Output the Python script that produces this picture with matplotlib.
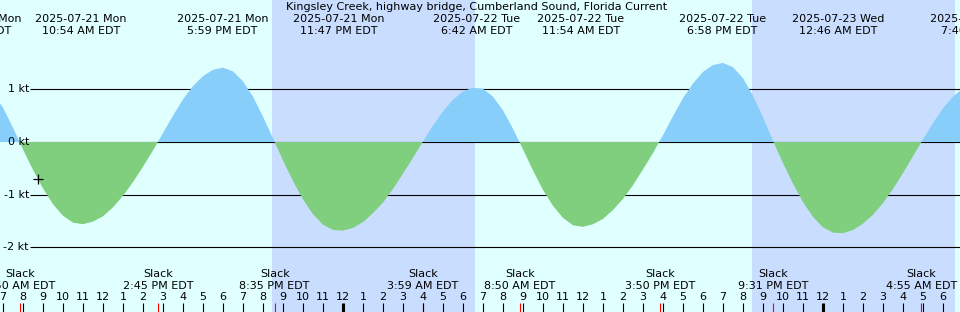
import numpy as np
import pandas as pd
import matplotlib
matplotlib.use("Agg")
import matplotlib.pyplot as plt

title = "Kingsley Creek, highway bridge, Cumberland Sound, Florida Current"

# current speed (kt), sampled every 30 minutes from 2025-07-21 06:30 EDT
sample_start = "2025-07-21 06:30"
speeds = [
    0.93, 0.65, 0.27, -0.14, -0.53, -0.88, -1.18, -1.40, -1.53, -1.56,
    -1.51, -1.41, -1.24, -1.02, -0.76, -0.47, -0.16, 0.17, 0.50, 0.81,
    1.06, 1.25, 1.37, 1.41, 1.34, 1.15, 0.86, 0.48, 0.07, -0.35,
    -0.74, -1.09, -1.37, -1.57, -1.67, -1.68, -1.63, -1.52, -1.35, -1.15,
    -0.89, -0.60, -0.30, 0.01, 0.31, 0.58, 0.80, 0.96, 1.03, 1.01,
    0.86, 0.60, 0.25, -0.14, -0.54, -0.91, -1.21, -1.44, -1.58, -1.61,
    -1.56, -1.46, -1.29, -1.08, -0.82, -0.52, -0.21, 0.13, 0.49, 0.83,
    1.11, 1.33, 1.46, 1.50, 1.42, 1.21, 0.88, 0.47, 0.02, -0.40,
    -0.79, -1.14, -1.42, -1.62, -1.72, -1.73, -1.67, -1.55, -1.38, -1.16,
    -0.89, -0.59, -0.27, 0.05, 0.36, 0.64, 0.86, 1.02,
]

max_events = ["2025-07-21 05:39", "2025-07-21 10:54", "2025-07-21 17:59",
              "2025-07-21 23:47", "2025-07-22 06:42", "2025-07-22 11:54",
              "2025-07-22 18:58", "2025-07-23 00:46", "2025-07-23 07:40"]
slack_events = ["2025-07-21 07:50", "2025-07-21 14:45", "2025-07-21 20:35",
                "2025-07-22 03:59", "2025-07-22 08:50", "2025-07-22 15:50",
                "2025-07-22 21:31", "2025-07-23 04:55"]
night_start = ["2025-07-21 20:26", "2025-07-22 20:27"]
night_end = ["2025-07-22 06:36", "2025-07-23 06:36"]
now_time = "2025-07-21 08:45"
now_speed = -0.71
depth_levels = [1, 0, -1, -2]

origin = pd.Timestamp("2025-07-21 00:00")


def hours(ts):
    return (pd.Timestamp(ts) - origin) / pd.Timedelta(hours=1)


def clock(ts):
    ts = pd.Timestamp(ts)
    h = ts.hour % 12 or 12
    return f"{h}:{ts.minute:02d} {'AM' if ts.hour < 12 else 'PM'} EDT"


t = hours(sample_start) + 0.5 * np.arange(len(speeds))
v = np.array(speeds)

day_bg = "#e0ffff"
night_bg = "#c9ddff"
flood_col = "#87cefa"
ebb_col = "#7fcf7f"
fs = 8

fig = plt.figure(figsize=(9.6, 3.12), dpi=100)
fig.patch.set_facecolor(day_bg)
ax = fig.add_axes([0, 0, 1, 1])
ax.set_facecolor(day_bg)
x0 = 6.85
ax.set_xlim(x0, x0 + 48)
ax.set_ylim(-170 / 52.7, 142 / 52.7)
ax.axis("off")

for a, b in zip(night_start, night_end):
    ax.axvspan(hours(a), hours(b), color=night_bg, lw=0, zorder=0)

# depth lines sit behind the current fill
ax.hlines(depth_levels, x0 + 30 / 20, x0 + 48, color="black", lw=0.8, zorder=1)
for d in depth_levels:
    ax.text(x0 + 29 / 20, d, f"{d} kt", ha="right", va="center",
            fontsize=fs, zorder=3)

ax.fill_between(t, v, 0, where=v >= 0, interpolate=True, color=flood_col,
                lw=0, zorder=2)
ax.fill_between(t, v, 0, where=v <= 0, interpolate=True, color=ebb_col,
                lw=0, zorder=2)

ax.plot([hours(now_time)], [now_speed], marker="+", color="black",
        markersize=7, mew=0.9, zorder=4)

tr = ax.get_xaxis_transform()
ax.text(0.496, 1 - 7.5 / 312, title, transform=ax.transAxes, ha="center",
        va="center", fontsize=fs)
for e in max_events:
    ts = pd.Timestamp(e)
    ax.text(hours(e), 1 - 19 / 312, ts.strftime("%Y-%m-%d %a"), transform=tr,
            ha="center", va="center", fontsize=fs)
    ax.text(hours(e), 1 - 31 / 312, clock(e), transform=tr,
            ha="center", va="center", fontsize=fs)

for e in slack_events:
    ax.text(hours(e), 38 / 312, "Slack", transform=tr, ha="center",
            va="center", fontsize=fs)
    ax.text(hours(e), 26 / 312, clock(e), transform=tr, ha="center",
            va="center", fontsize=fs)
    ax.vlines(hours(e), 0, 9 / 312, transform=tr, color="red", lw=0.8,
              zorder=3)

for h in range(7, 55):
    lw = 2.2 if h % 24 == 0 else 0.8
    ax.vlines(h, 0, 9 / 312, transform=tr, color="black", lw=lw, zorder=3)
    ax.text(h, 14.5 / 312, str(h % 12 or 12), transform=tr, ha="center",
            va="center", fontsize=fs)

fig.savefig("out.png", dpi=100, facecolor=day_bg)
